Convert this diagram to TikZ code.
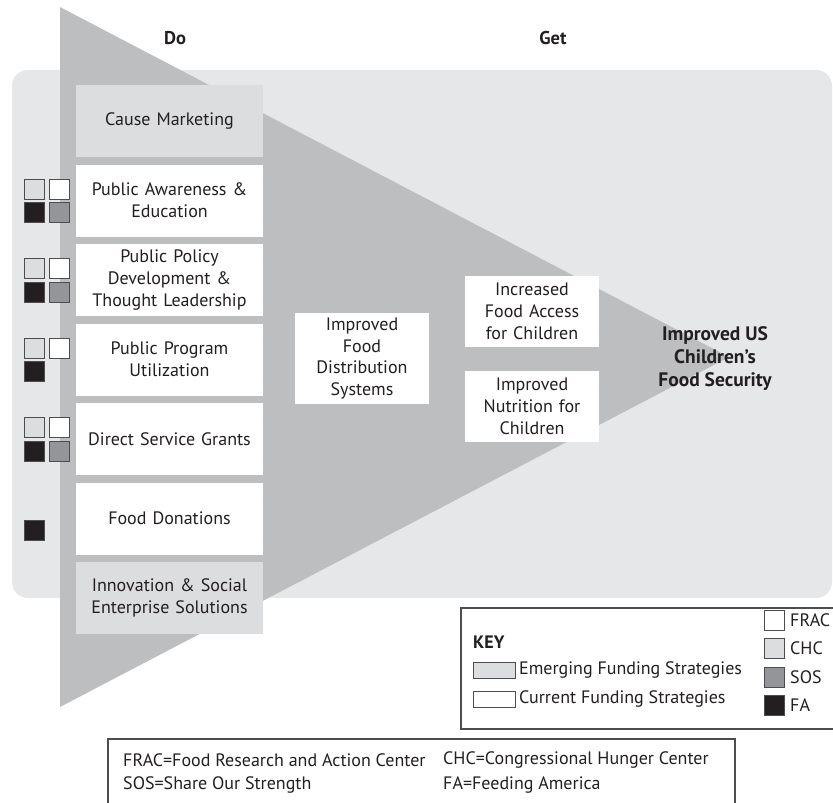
\documentclass[tikz,border=0pt]{standalone}
\usepackage{fontspec}
\setmainfont{PT Sans}
\definecolor{tri}{HTML}{BCBEC0}
\definecolor{panel}{HTML}{E6E7E8}
\definecolor{emerg}{HTML}{DCDDDE}
\definecolor{sosgrey}{HTML}{939598}
\definecolor{fablack}{HTML}{231F20}
\definecolor{edge}{HTML}{4D4D4F}
\definecolor{ink}{HTML}{231F20}
\begin{document}
\begin{tikzpicture}[x=1pt,y=-1pt,
  every node/.style={text=ink, font=\fontsize{18}{21.7}\selectfont},
  strategy/.style={fill=white, minimum width=187pt, minimum height=72pt,
    inner sep=0pt, align=center, text width=185pt},
  emerging/.style={strategy, fill=emerg},
  outcome/.style={fill=white, inner sep=0pt, align=center, text width=134pt},
  org/.style={draw=edge, line width=0.8pt, minimum size=20pt, inner sep=0pt},
  frac/.style={org, fill=white},
  chc/.style={org, fill=emerg},
  sos/.style={org, fill=sosgrey},
  fa/.style={org, fill=fablack},
  heading/.style={font=\fontsize{18.5}{22}\selectfont\bfseries},
  keyframe/.style={draw=edge, line width=1.1pt},
  keytext/.style={anchor=west, inner sep=0pt, font=\fontsize{18}{20}\selectfont},
  swatch/.style={draw=edge, line width=0.8pt, minimum width=42pt, minimum height=16pt, inner sep=0pt}
]
\useasboundingbox (0,0) rectangle (833,803);
\clip (0,0) rectangle (833,803);

% background panel and funnel
\fill[panel, rounded corners=16pt] (12,70) rectangle (832,598);
\fill[tri] (60,7) -- (729,357) -- (60,707) -- cycle;

% column headings
\node[heading] (do) at (175,38) {Do};
\node[heading] (get) at (553,38) {Get};

% funding strategies
\node[emerging] (cause) at (169.5,121) {Cause Marketing};
\node[strategy] (aware) at (169.5,200.5) {Public Awareness \&\\Education};
\node[strategy] (policy) at (169.5,280) {Public Policy\\Development \&\\Thought Leadership};
\node[strategy] (program) at (169.5,359.5) {Public Program\\Utilization};
\node[strategy] (grants) at (169.5,439) {Direct Service Grants};
\node[strategy] (donate) at (169.5,518.5) {Food Donations};
\node[emerging] (innov) at (169.5,598) {Innovation \& Social\\Enterprise Solutions};

% organisations behind each strategy
\node[chc] (aware-chc) at (34.5,189) {};
\node[frac] (aware-frac) at (59,189) {};
\node[fa] (aware-fa) at (34.5,212.5) {};
\node[sos] (aware-sos) at (59,212.5) {};

\node[chc] (policy-chc) at (34.5,268.5) {};
\node[frac] (policy-frac) at (59,268.5) {};
\node[fa] (policy-fa) at (34.5,292) {};
\node[sos] (policy-sos) at (59,292) {};

\node[chc] (program-chc) at (34.5,348) {};
\node[frac] (program-frac) at (59,348) {};
\node[fa] (program-fa) at (34.5,371.5) {};

\node[chc] (grants-chc) at (34.5,427.5) {};
\node[frac] (grants-frac) at (59,427.5) {};
\node[fa] (grants-fa) at (34.5,451) {};
\node[sos] (grants-sos) at (59,451) {};

\node[fa] (donate-fa) at (34.5,530.5) {};

% outcomes
\node[outcome, minimum height=91pt] (distrib) at (362,358.5) {Improved\\Food\\Distribution\\Systems};
\node[outcome, minimum height=71pt] (access) at (532,311.5) {Increased\\Food Access\\for Children};
\node[outcome, minimum height=71pt] (nutri) at (532,406.5) {Improved\\Nutrition for\\Children};
\node[align=center, font=\fontsize{19.5}{23}\selectfont\bfseries] (goal) at (715,359) {Improved US\\Children’s\\Food Security};

% key
\draw[keyframe] (461,608) rectangle (845,729);
\node[anchor=west, inner sep=0pt, font=\fontsize{18}{20}\selectfont\bfseries] (keytitle) at (473,642) {KEY};
\node[swatch, fill=emerg] (sw-emerg) at (494,670) {};
\node[keytext] (lb-emerg) at (519,670) {Emerging Funding Strategies};
\node[swatch, fill=white] (sw-curr) at (494,699) {};
\node[keytext] (lb-curr) at (519,699) {Current Funding Strategies};
\node[frac] (k-frac) at (774.5,620) {};
\node[keytext] (lb-frac) at (790,620) {FRAC};
\node[chc] (k-chc) at (774.5,648.5) {};
\node[keytext] (lb-chc) at (790,648.5) {CHC};
\node[sos] (k-sos) at (774.5,677) {};
\node[keytext] (lb-sos) at (790,677) {SOS};
\node[fa] (k-fa) at (774.5,705.5) {};
\node[keytext] (lb-fa) at (790,705.5) {FA};

% abbreviations
\draw[keyframe] (108,739) rectangle (735,820);
\node[keytext] (ab-frac) at (123,760) {FRAC=Food Research and Action Center};
\node[keytext] (ab-sos) at (123,785) {SOS=Share Our Strength};
\node[keytext] (ab-chc) at (443,760) {CHC=Congressional Hunger Center};
\node[keytext] (ab-fa) at (443,785) {FA=Feeding America};
\end{tikzpicture}
\end{document}
